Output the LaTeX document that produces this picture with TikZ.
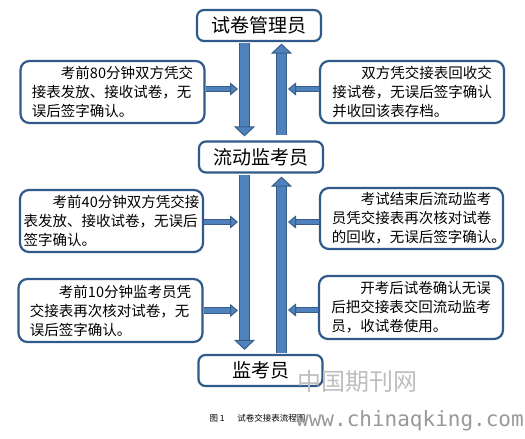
\documentclass[tikz,border=0pt]{standalone}
\usepackage{fontspec}
\usetikzlibrary{arrows.meta}
\newfontfamily\cjk{Noto Sans CJK SC}
\newfontfamily\wmmono{DejaVu Sans Mono}
\definecolor{BoxEdge}{HTML}{2F5A8A}
\definecolor{ArrowFill}{HTML}{4F81BD}
\definecolor{ArrowEdge}{HTML}{385D8A}
\definecolor{MarkGray}{HTML}{BEBEBE}

\begin{document}
\begin{tikzpicture}[x=1pt,y=-1pt,every node/.style={font=\cjk, align=left}]
  \tikzset{
    rolebox/.style={draw=BoxEdge, fill=white, line width=2.2pt, rounded corners=7pt, minimum width=124pt, minimum height=31pt, font=\cjk\fontsize{19}{22}\selectfont, align=center, inner sep=0pt},
    notebox/.style={draw=BoxEdge, fill=white, line width=2.2pt, rounded corners=9pt, minimum width=184pt, minimum height=62pt, font=\cjk\fontsize{14.5}{19}\selectfont, inner sep=0pt},
    bigarrow/.style={draw=ArrowEdge, line width=1pt, double=ArrowFill, double distance=9pt, -{Triangle[length=10pt,width=21pt,fill=ArrowFill,color=ArrowEdge,line width=1pt]}},
    smallarrow/.style={draw=ArrowEdge, line width=1pt, double=ArrowFill, double distance=4.5pt, -{Triangle[length=8pt,width=13pt,fill=ArrowFill,color=ArrowEdge,line width=1pt]}}
  }
  \useasboundingbox (0,0) rectangle (525,439);

  % roles
  \node[rolebox] (admin) at (259,25.5) {试卷管理员};
  \node[rolebox] (roving) at (261,157) {流动监考员};
  \node[rolebox] (proctor) at (260.5,370.5) {监考员};

  % hand-over notes
  \node[notebox] (hand1) at (112.5,92) {\hspace*{2em}考前80分钟双方凭交\\接表发放、接收试卷，无\\误后签字确认。};
  \node[notebox] (back1) at (412,92) {\hspace*{2em}双方凭交接表回收交\\接试卷，无误后签字确认\\并收回该表存档。};
  \node[notebox, minimum width=183pt] (hand2) at (111.5,221) {\hspace*{2em}考前40分钟双方凭交接\\表发放、接收试卷，无误后\\签字确认。};
  \node[notebox, minimum width=183pt, minimum height=61pt] (back2) at (411.5,218.5) {\hspace*{2em}考试结束后流动监考\\员凭交接表再次核对试卷\\的回收，无误后签字确认\rlap{。}};
  \node[notebox, minimum height=63pt] (hand3) at (110.5,310.5) {\hspace*{2em}考前10分钟监考员凭\\交接表再次核对试卷，无\\误后签字确认。};
  \node[notebox, minimum height=63pt] (back3) at (411,307.5) {\hspace*{2em}开考后试卷确认无误\\后把交接表交回流动监考\\员，收试卷使用。};

  \coordinate (downx) at (244.5,0);
  \coordinate (upx) at (281.5,0);
  \coordinate (ltip) at (238,0);
  \coordinate (rtip) at (288,0);

  % main flow
  \draw[bigarrow, shorten <=1pt, shorten >=4pt] (admin.south -| downx) -- (roving.north -| downx);
  \draw[bigarrow, shorten <=1pt, shorten >=4pt] (roving.south -| downx) -- (proctor.north -| downx);
  \draw[bigarrow, shorten <=5pt, shorten >=1.5pt] (roving.north -| upx) -- (admin.south -| upx);
  \draw[bigarrow, shorten <=1pt, shorten >=3pt] (proctor.north -| upx) -- (roving.south -| upx);

  % side arrows
  \draw[smallarrow] ([yshift=3pt]hand1.east) -- ([yshift=3pt]hand1.east -| ltip);
  \draw[smallarrow] ([yshift=3pt]back1.west) -- ([yshift=3pt]back1.west -| rtip);
  \draw[smallarrow] ([yshift=-1pt]hand2.east) -- ([yshift=-1pt]hand2.east -| ltip);
  \draw[smallarrow] ([yshift=-3.5pt]back2.west) -- ([yshift=-3.5pt]back2.west -| rtip);
  \draw[smallarrow] (hand3.east) -- (hand3.east -| ltip);
  \draw[smallarrow] ([yshift=-2.5pt]back3.west) -- ([yshift=-2.5pt]back3.west -| rtip);

  \node[font=\cjk\fontsize{8.5}{10}\selectfont, anchor=west] (caption) at (206,418) {图 1\hspace{1.5em}试卷交接表流程图};

  % watermark
  \node[font=\cjk\fontsize{24}{24}\selectfont, text=MarkGray] (markcn) at (357,381) {中国期刊网};
  \node[font=\wmmono\fontsize{21}{21}\selectfont, text=MarkGray!80!black] (markurl) at (410,421) {www.chinaqking.com};
\end{tikzpicture}
\end{document}
